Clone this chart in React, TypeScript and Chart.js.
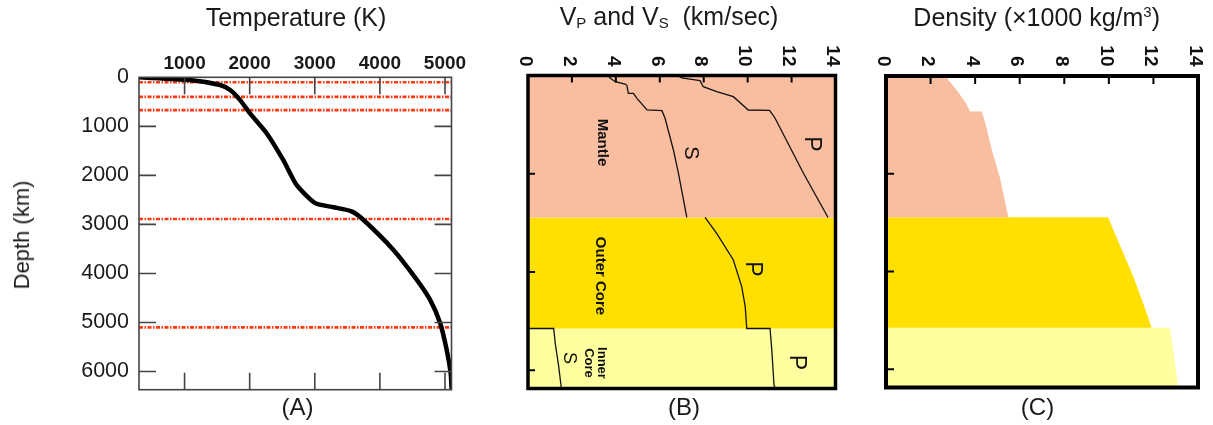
import React, { useEffect, useRef } from "react";
import { Chart, registerables } from "chart.js";

Chart.register(...registerables);

const FONT = '"Liberation Sans", Arial, Helvetica, sans-serif';

// ---------------- Panel A : temperature ----------------
const tempTitle = "Temperature (K)";
const depthTitle = "Depth (km)";
const tempTicks = [1000, 2000, 3000, 4000, 5000];
const depthTicksA = [0, 1000, 2000, 3000, 4000, 5000, 6000];
const tempRange = [300, 5100];
const earthRadius = 6371;
const tempK = [300, 1080, 1545, 1700, 1850, 2005, 2260, 2515, 2720, 3005, 3285, 3565, 3745, 4205, 4565, 4770, 4925, 5025, 5087, 5102];
const tempDepth = [0, 55, 157, 260, 460, 735, 1140, 1685, 2195, 2565, 2650, 2735, 2905, 3515, 4125, 4535, 5010, 5550, 6025, 6371];
const boundaryDepthsA = [100, 400, 670, 2890, 5100];

// ---------------- Panel B : seismic velocities ----------------
const velTicks = [0, 2, 4, 6, 8, 10, 12, 14];
const depthTicksBC = [2000, 4000, 6000];
const layerTop = [0, 2890, 5150];
const layerBottom = [2890, 5150, 6371];
const layerColors = ["#f9bd9f", "#ffe000", "#ffffa0"];

const vsMantle = [3.65, 3.75, 3.97, 4.42, 4.5, 4.57, 4.8, 4.96, 5.42, 6.1, 6.24, 6.62, 6.85, 7.08, 7.23];
const vsMantleDepth = [0, 57, 126, 173, 200, 363, 363, 465, 702, 716, 871, 1516, 1991, 2534, 2890];
const vpMantle = [6.8, 7.0, 7.83, 7.98, 8.59, 9.35, 10.03, 11.0, 11.25, 12.54, 13.66];
const vpMantleDepth = [0, 50, 106, 228, 330, 431, 702, 710, 870, 1991, 2890];
const vpCore = [8.06, 8.59, 9.35, 9.73, 9.89, 9.96, 11.02, 11.1, 11.2, 11.25];
const vpCoreDepth = [2890, 3212, 3755, 4298, 4706, 5150, 5150, 5590, 6300, 6371];
const vsInner = [0, 1.17, 1.24, 1.4, 1.52];
const vsInnerDepth = [5150, 5150, 5450, 5930, 6371];

const notesB = [
  { text: "Mantle", x: 3.36, y: 1364, font: `bold 15px ${FONT}` },
  { text: "S", x: 7.38, y: 1577, font: `20px ${FONT}` },
  { text: "P", x: 12.92, y: 1394, font: `23px ${FONT}` },
  { text: "Outer Core", x: 3.28, y: 4081, font: `bold 15px ${FONT}` },
  { text: "P", x: 10.2, y: 3938, font: `23px ${FONT}` },
  { text: "Inner\nCore", x: 3.05, y: 5852, font: `bold 13px ${FONT}` },
  { text: "S", x: 1.87, y: 5750, font: `18px ${FONT}` },
  { text: "P", x: 12.2, y: 5842, font: `23px ${FONT}` },
];

// ---------------- Panel C : density ----------------
const densMantle = [2.78, 2.78, 3.17, 3.6, 3.77, 4.3, 4.5, 4.75, 5.1, 5.49];
const densMantleDepth = [0, 70, 286, 560, 728, 728, 1037, 1514, 2060, 2890];
const densOuter = [9.97, 10.2, 10.65, 11.1, 11.54, 11.92];
const densOuterDepth = [2890, 3150, 3627, 4105, 4650, 5150];
const densInner = [12.74, 12.89, 13.11];
const densInnerDepth = [5150, 5604, 6371];

// ---------------- helpers ----------------
const zip = (xs: number[], ys: number[]) => xs.map((x, i) => ({ x, y: ys[i] }));

type Note = { text: string; x: number; y: number; font: string };
type FrameOpts = {
  frameColor: string;
  frameWidth: number;
  tickColor: string;
  tickWidth: number;
  tickLen: number;
  xTicks: number[];
  yTicks: number[];
  sides: { top?: boolean; bottom?: boolean; left?: boolean; right?: boolean };
  topLabels?: { values: number[]; font: string; gap: number; dx: number };
  notes?: Note[];
};

function framePlugin(o: FrameOpts) {
  return {
    id: "frame",
    afterDatasetsDraw(chart: any) {
      const { ctx, chartArea: a, scales } = chart;
      const xs = scales.x;
      const ys = scales.y;
      ctx.save();
      if (o.notes) {
        ctx.fillStyle = "#111";
        for (const n of o.notes) {
          const px = xs.getPixelForValue(n.x);
          const py = ys.getPixelForValue(n.y);
          ctx.save();
          ctx.translate(px, py);
          ctx.rotate(Math.PI / 2);
          ctx.font = n.font;
          ctx.textAlign = "center";
          ctx.textBaseline = "middle";
          const lines = n.text.split("\n");
          const size = parseFloat(n.font.replace(/^bold /, ""));
          const lh = size * 1.05;
          lines.forEach((l, i) => {
            ctx.fillText(l, 0, (i - (lines.length - 1) / 2) * lh);
          });
          ctx.restore();
        }
      }
      ctx.strokeStyle = o.tickColor;
      ctx.lineWidth = o.tickWidth;
      ctx.beginPath();
      for (const v of o.xTicks) {
        const px = xs.getPixelForValue(v);
        if (o.sides.top) {
          ctx.moveTo(px, a.top);
          ctx.lineTo(px, a.top + o.tickLen);
        }
        if (o.sides.bottom) {
          ctx.moveTo(px, a.bottom);
          ctx.lineTo(px, a.bottom - o.tickLen);
        }
      }
      for (const v of o.yTicks) {
        const py = ys.getPixelForValue(v);
        if (o.sides.left) {
          ctx.moveTo(a.left, py);
          ctx.lineTo(a.left + o.tickLen, py);
        }
        if (o.sides.right) {
          ctx.moveTo(a.right, py);
          ctx.lineTo(a.right - o.tickLen, py);
        }
      }
      ctx.stroke();
      ctx.strokeStyle = o.frameColor;
      ctx.lineWidth = o.frameWidth;
      ctx.strokeRect(a.left, a.top, a.right - a.left, a.bottom - a.top);
      if (o.topLabels) {
        const t = o.topLabels;
        ctx.fillStyle = "#111";
        ctx.font = t.font;
        for (const v of t.values) {
          const px = xs.getPixelForValue(v) + t.dx;
          ctx.save();
          ctx.translate(px, a.top - t.gap);
          ctx.rotate(Math.PI / 2);
          ctx.textAlign = "right";
          ctx.textBaseline = "middle";
          ctx.fillText(String(v), 0, 0);
          ctx.restore();
        }
      }
      ctx.restore();
    },
  };
}

const noLegend = { legend: { display: false }, tooltip: { enabled: false } };

function hiddenTopX(min: number, max: number, height: number) {
  return {
    type: "linear",
    position: "top",
    min,
    max,
    grid: { display: false, drawTicks: false },
    border: { display: false },
    ticks: { display: false },
    afterFit: (s: any) => {
      s.height = height;
      s.paddingLeft = 0;
      s.paddingRight = 0;
    },
  };
}
const hiddenDepthY = {
  type: "linear",
  reverse: true,
  min: 0,
  max: earthRadius,
  display: false,
};

function configA(): any {
  const red = boundaryDepthsA.map((d) => ({
    data: [
      { x: tempRange[0], y: d },
      { x: tempRange[1], y: d },
    ],
    borderColor: "#ff3a10",
    borderWidth: 2.6,
    borderDash: [4, 1.5, 1.5, 1.5],
    pointRadius: 0,
    showLine: true,
    fill: false,
  }));
  return {
    type: "scatter",
    data: {
      datasets: [
        {
          data: zip(tempK, tempDepth),
          borderColor: "#000",
          borderWidth: 4.5,
          pointRadius: 0,
          showLine: true,
          tension: 0.2,
          fill: false,
          borderCapStyle: "round",
          borderJoinStyle: "round",
        },
        ...red,
      ],
    },
    options: {
      animation: false,
      responsive: false,
      events: [],
      layout: { padding: { left: 0, top: 0, right: 18.5, bottom: 35.3 } },
      plugins: noLegend,
      scales: {
        x: {
          type: "linear",
          position: "top",
          min: tempRange[0],
          max: tempRange[1],
          grid: { display: false, drawTicks: false },
          border: { display: false },
          afterBuildTicks: (s: any) => {
            s.ticks = tempTicks.map((v) => ({ value: v }));
          },
          afterFit: (s: any) => {
            s.height = 77.3;
            s.paddingLeft = 0;
            s.paddingRight = 0;
          },
          ticks: {
            font: { family: FONT, size: 19, weight: "bold" },
            color: "#1a1a1a",
            padding: 2,
            maxRotation: 0,
            autoSkip: false,
            callback: (v: any) => String(v),
          },
        },
        y: {
          type: "linear",
          position: "left",
          reverse: true,
          min: 0,
          max: earthRadius,
          grid: { display: false, drawTicks: false },
          border: { display: false },
          afterBuildTicks: (s: any) => {
            s.ticks = depthTicksA.map((v) => ({ value: v }));
          },
          afterFit: (s: any) => {
            s.width = 139;
            s.paddingTop = 0;
            s.paddingBottom = 0;
          },
          ticks: {
            font: { family: FONT, size: 21.5 },
            color: "#1a1a1a",
            padding: 10,
            autoSkip: false,
            callback: (v: any) => String(v),
          },
        },
      },
    },
    plugins: [
      framePlugin({
        frameColor: "#444",
        frameWidth: 1.6,
        tickColor: "#444",
        tickWidth: 1.6,
        tickLen: 17,
        xTicks: tempTicks,
        yTicks: depthTicksA.filter((v) => v > 0),
        sides: { top: true, bottom: true, left: true, right: true },
      }),
    ],
  };
}

function band(i: number, xMax: number) {
  return {
    data: [
      { x: 0, y: layerTop[i] },
      { x: xMax, y: layerTop[i] },
      { x: xMax, y: layerBottom[i] },
      { x: 0, y: layerBottom[i] },
    ],
    backgroundColor: layerColors[i],
    borderColor: "rgba(0,0,0,0)",
    borderWidth: 0,
    pointRadius: 0,
    showLine: true,
    fill: "shape",
  };
}

function thinLine(xs: number[], ys: number[]) {
  return {
    data: zip(xs, ys),
    borderColor: "#111",
    borderWidth: 1.3,
    pointRadius: 0,
    showLine: true,
    fill: false,
  };
}

function configB(): any {
  const vMax = velTicks[velTicks.length - 1];
  return {
    type: "scatter",
    data: {
      datasets: [
        thinLine(vsMantle, vsMantleDepth),
        thinLine(vpMantle, vpMantleDepth),
        thinLine(vpCore, vpCoreDepth),
        thinLine(vsInner, vsInnerDepth),
        band(0, vMax),
        band(1, vMax),
        band(2, vMax),
      ],
    },
    options: {
      animation: false,
      responsive: false,
      events: [],
      layout: { padding: { left: 58, top: 0, right: 14.5, bottom: 36.5 } },
      plugins: noLegend,
      scales: { x: hiddenTopX(0, vMax, 75.5), y: hiddenDepthY },
    },
    plugins: [
      framePlugin({
        frameColor: "#000",
        frameWidth: 3.5,
        tickColor: "#000",
        tickWidth: 2,
        tickLen: 7,
        xTicks: velTicks.slice(1, -1),
        yTicks: depthTicksBC,
        sides: { top: true, left: true },
        topLabels: { values: velTicks, font: `bold 19px ${FONT}`, gap: 9, dx: -3 },
        notes: notesB,
      }),
    ],
  };
}

function fillArea(i: number, xs: number[], ys: number[]) {
  const pts = [{ x: 0, y: layerTop[i] }, ...zip(xs, ys), { x: 0, y: layerBottom[i] }];
  return {
    data: pts,
    backgroundColor: layerColors[i],
    borderColor: "rgba(0,0,0,0)",
    borderWidth: 0,
    pointRadius: 0,
    showLine: true,
    fill: "shape",
  };
}

function configC(): any {
  const vMax = velTicks[velTicks.length - 1];
  return {
    type: "scatter",
    data: {
      datasets: [
        fillArea(0, densMantle, densMantleDepth),
        fillArea(1, densOuter, densOuterDepth),
        fillArea(2, densInner, densInnerDepth),
      ],
    },
    options: {
      animation: false,
      responsive: false,
      events: [],
      layout: { padding: { left: 36, top: 0, right: 15, bottom: 37.5 } },
      plugins: noLegend,
      scales: { x: hiddenTopX(0, vMax, 76), y: hiddenDepthY },
    },
    plugins: [
      framePlugin({
        frameColor: "#000",
        frameWidth: 4,
        tickColor: "#000",
        tickWidth: 2,
        tickLen: 8,
        xTicks: velTicks.slice(1, -1),
        yTicks: depthTicksBC,
        sides: { top: true, left: true },
        topLabels: { values: velTicks, font: `bold 19px ${FONT}`, gap: 9.5, dx: -3 },
      }),
    ],
  };
}

function Panel({ left, width, build }: { left: number; width: number; build: () => any }) {
  const ref = useRef<HTMLCanvasElement>(null);
  useEffect(() => {
    const chart = new Chart(ref.current as HTMLCanvasElement, build());
    return () => chart.destroy();
  }, []);
  return (
    <canvas
      ref={ref}
      width={width}
      height={425}
      style={{ position: "absolute", left, top: 0, width, height: 425 }}
    />
  );
}

function Label({ cx, cy, size, rotate, children }: any) {
  return (
    <div
      style={{
        position: "absolute",
        left: cx,
        top: cy,
        transform: `translate(-50%, -50%)${rotate ? ` rotate(${rotate}deg)` : ""}`,
        fontFamily: FONT,
        fontSize: size,
        lineHeight: 1,
        whiteSpace: "pre",
        color: "#1a1a1a",
      }}
    >
      {children}
    </div>
  );
}

export default function App() {
  return (
    <div
      style={{
        position: "absolute",
        left: 0,
        top: 0,
        width: 1213,
        height: 425,
        background: "#fff",
        overflow: "hidden",
      }}
    >
      <Panel left={0} width={470} build={configA} />
      <Panel left={470} width={380} build={configB} />
      <Panel left={850} width={363} build={configC} />
      <Label cx={296} cy={17.3} size={25}>{tempTitle}</Label>
      <Label cx={22} cy={235} size={22} rotate={-90}>{depthTitle}</Label>
      <Label cx={297.5} cy={407} size={24}>(A)</Label>
      <Label cx={669} cy={17.3} size={25}>
        V<span style={{ fontSize: 15, verticalAlign: "-3px" }}>P</span> and V
        <span style={{ fontSize: 15, verticalAlign: "-3px" }}>S</span>
        {"  (km/sec)"}
      </Label>
      <Label cx={684} cy={407} size={24}>(B)</Label>
      <Label cx={1036.7} cy={17.3} size={25}>
        Density (×1000 kg/m<span style={{ fontSize: 15, verticalAlign: "9px" }}>3</span>)
      </Label>
      <Label cx={1037.5} cy={407} size={24}>(C)</Label>
    </div>
  );
}
